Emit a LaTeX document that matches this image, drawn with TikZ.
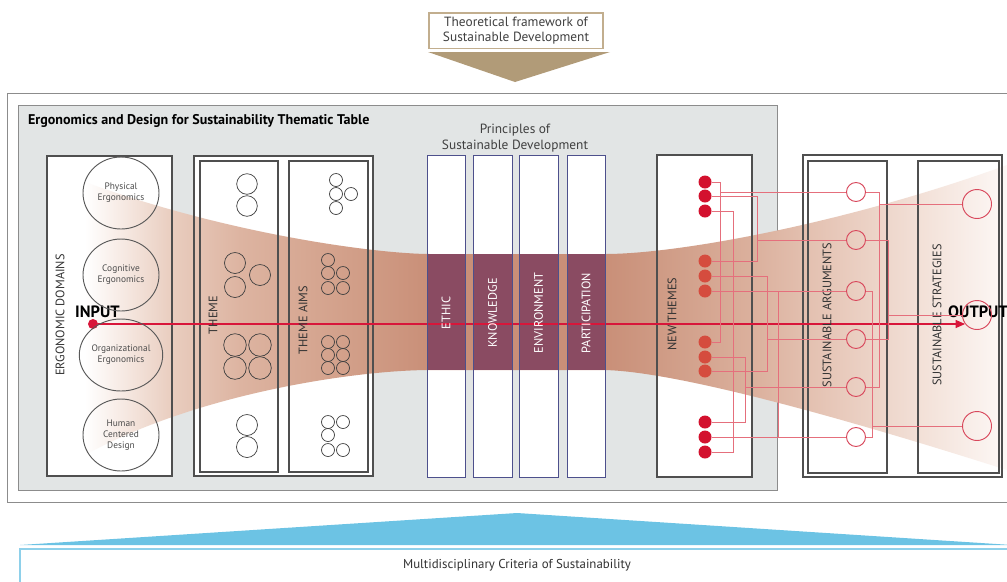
\documentclass[tikz,border=0pt]{standalone}
\usepackage{fontspec}
\setmainfont{PT Sans}
\usetikzlibrary{positioning,shapes.geometric,arrows.meta}

\definecolor{framegray}{HTML}{8C8C8C}
\definecolor{tablegray}{HTML}{E2E5E5}
\definecolor{boxline}{HTML}{4F4F4F}
\definecolor{tanline}{HTML}{C2AE8E}
\definecolor{tanfill}{HTML}{B19B78}
\definecolor{colline}{HTML}{4D508C}
\definecolor{bandpurple}{HTML}{8A4B62}
\definecolor{inred}{HTML}{D8163A}
\definecolor{dotred}{HTML}{D3112E}
\definecolor{dotorange}{HTML}{D54C3E}
\definecolor{wirered}{HTML}{E56F7C}
\definecolor{ringred}{HTML}{D8485C}
\definecolor{skyblue}{HTML}{6CC3E4}
\definecolor{skyline}{HTML}{8ED0EA}
\definecolor{fun0}{HTML}{F7EBE5}
\definecolor{fun1}{HTML}{E9CDBF}
\definecolor{fun2}{HTML}{DDB4A1}
\definecolor{fun3}{HTML}{D3A18B}
\definecolor{fun4}{HTML}{C98F78}
\definecolor{fun5}{HTML}{CF9B85}
\definecolor{fun6}{HTML}{DCB29F}
\definecolor{fun7}{HTML}{E8CABC}
\definecolor{fun8}{HTML}{F4E4DC}
\definecolor{fun9}{HTML}{FDF8F6}

% salmon funnel, light at both ends
\pgfdeclarehorizontalshading{funnel}{100bp}{color(0bp)=(white); color(25bp)=(white);
  color(26.9bp)=(fun0); color(29.7bp)=(fun1); color(33.4bp)=(fun2); color(38.8bp)=(fun3);
  color(43.7bp)=(fun4); color(53.2bp)=(fun4); color(56.2bp)=(fun5); color(61.6bp)=(fun6);
  color(66bp)=(fun7); color(71bp)=(fun8); color(75bp)=(fun9); color(100bp)=(fun9)}

\pgfdeclarelayer{back}
\pgfdeclarelayer{mid}
\pgfsetlayers{back,mid,main}

\tikzset{
  box/.style={draw=boxline, line width=0.9pt},
  col/.style={draw=colline, line width=0.7pt},
  vlabel/.style={rotate=90, font=\fontsize{10.5}{12}\selectfont, text=black!80},
  collabel/.style={rotate=90, font=\fontsize{10.5}{12}\selectfont, text=white},
  ergodomain/.style={ellipse, draw=black!65, line width=0.8pt, minimum width=22.8mm, minimum height=21.6mm,
    inner sep=0pt, align=center, font=\fontsize{8}{9.5}\selectfont, text=black!70},
  themering/.style={draw=black!75, line width=0.6pt},
  newdot/.style={circle, fill=#1, inner sep=0pt, minimum size=3.9mm},
  arg/.style={circle, draw=ringred, line width=0.8pt, inner sep=0pt, minimum size=5.7mm},
  strat/.style={circle, draw=ringred, line width=0.8pt, inner sep=0pt, minimum size=8.7mm},
  wire/.style={wirered, line width=0.6pt},
  io/.style={anchor=south west, inner sep=0pt, font=\fontsize{14}{14}\bfseries\selectfont}
}

\begin{document}
\begin{tikzpicture}[x=0.3mm, y=-0.3mm]
\clip (0,0) rectangle (1007,581);

% frames and white panels
\begin{pgfonlayer}{back}
  \draw[framegray, line width=0.8pt, fill=white] (7,93) rectangle (1015,502);
  \draw[framegray, line width=0.8pt, fill=tablegray] (18,105) rectangle (777,490);
  \foreach \a/\b/\c/\d in {47/156/172/476, 194/156/373/476, 657/155/752/477, 803/155/1002/477,
      427/155/465/477, 473/155/512/477, 519/155/558/477, 567/155/605/477}
    \fill[white] (\a,\b) rectangle (\c,\d);
\end{pgfonlayer}

\begin{pgfonlayer}{mid}
  \shade[shading=funnel] (85,182) .. controls (230,235) and (380,254) .. (430,254) -- (605,254)
    .. controls (680,254) and (850,222) .. (1007,165) -- (1007,470)
    .. controls (850,420) and (680,372) .. (605,370) -- (430,370)
    .. controls (360,370) and (200,392) .. (85,455) -- cycle;
  \foreach \l/\r in {427/465, 473/512, 519/558, 567/605}
    \fill[bandpurple] (\l,254) rectangle (\r,370);
\end{pgfonlayer}

% top: theoretical framework
\node[draw=tanline, line width=1pt, fill=white, minimum width=52.2mm, minimum height=10.5mm, align=center,
  font=\fontsize{11.4}{13}\selectfont, text=black!75] (theory) at (516,30.5) {Theoretical framework of\\Sustainable Development};
\fill[tanfill] (428,52) -- (610,52) -- (515,82) -- cycle;

\node[anchor=west, font=\fontsize{12}{14}\bfseries\selectfont] (tabletitle) at (24,121)
  {Ergonomics and Design for Sustainability Thematic Table};

\draw[box] (47,156) rectangle (172,476);
\draw[box] (194,156) rectangle (373,476);
\draw[box] (200,161) rectangle (278,472);
\draw[box] (289,161) rectangle (368,472);
\draw[box] (657,155) rectangle (752,477);
\draw[box] (803,155) rectangle (1002,477);
\draw[box] (808,161) rectangle (887,473);
\draw[box] (918,161) rectangle (999,473);

% input to output
\node[circle, fill=inred, inner sep=0pt, minimum size=3mm] (in) at (93,324) {};
\coordinate (out) at (965,324);
\draw[inred, line width=0.9pt, -{Triangle[length=2.8mm, width=2.4mm]}] (in) -- (out);
\node[io] (inlabel) at (75,318) {INPUT};
\node[io] (outlabel) at (948,318) {OUTPUT};

% ergonomic domains
\foreach \y/\t [count=\i] in {193/{Physical\\Ergonomics}, 275/{Cognitive\\Ergonomics},
    355/{Organizational\\Ergonomics}, 435/{Human\\Centered\\Design}}
  \node[ergodomain] (dom\i) at (121,\y) {\t};

\node[vlabel] (domains) at (60,315) {ERGONOMIC DOMAINS};
\node[vlabel] (theme) at (213,315) {THEME};
\node[vlabel] (aims) at (303,320) {THEME AIMS};
\node[vlabel] (newthemes) at (672,314) {NEW THEMES};
\node[vlabel] (arguments) at (827,315) {SUSTAINABLE ARGUMENTS};
\node[vlabel] (strategies) at (937,315) {SUSTAINABLE STRATEGIES};

% themes and aims
\foreach \x/\y/\r in {247/184/10.3, 247/206/10.3, 235/263/10.5, 260/275/10.5, 235/287/10.5,
    235/345/11.3, 260/345/11.3, 235/368/11.3, 260/368/11.3, 247/425/10.5, 247/447/10.5}
  \draw[themering] (\x,\y) circle [radius=\r];
\foreach \x/\y in {336/180, 336/194, 351/194, 336/208, 328/260, 328/273, 343/273, 328/288, 343/288,
    328/342, 343/342, 328/355, 343/355, 328/368, 343/368, 328/422, 343/422, 328/435, 328/450, 343/450}
  \draw[themering] (\x,\y) circle [radius=6.5];

% principles
\node[align=center, font=\fontsize{11.4}{13}\selectfont, text=black!75] (principles) at (515,138)
  {Principles of\\Sustainable Development};
\foreach \l/\r/\name [count=\i] in {427/465/ETHIC, 473/512/KNOWLEDGE, 519/558/ENVIRONMENT, 567/605/PARTICIPATION} {
  \draw[col] (\l,155) rectangle (\r,477);
  \node[collabel] (prin\i) at ({(\l+\r)/2},313) {\name};
}

% new themes, arguments, strategies
\foreach \y/\i in {182/1, 196/2, 211/3, 422/10, 437/11, 452/12}
  \node[newdot=dotred] (d\i) at (705,\y) {};
\foreach \y/\i in {261/4, 276/5, 291/6, 342/7, 357/8, 371/9}
  \node[newdot=dotorange] (d\i) at (705,\y) {};
\foreach \y [count=\i] in {192,240,291,339,387,437}
  \node[arg] (a\i) at (856,\y) {};
\foreach \y [count=\i] in {204,315,426}
  \node[strat] (s\i) at (977,\y) {};

\coordinate (v1) at (720,0);
\coordinate (v2) at (733,0);
\coordinate (v3) at (757,0);
\coordinate (v4) at (767,0);
\coordinate (v5) at (745,0);
\coordinate (v6) at (778,0);
\coordinate (w1) at (879,0);
\coordinate (w2) at (888,0);
\coordinate (w3) at (872,0);

\draw[wire] (d1.east) -- (d1 -| v1) -- (d7 -| v1) -- (d7.east);
\draw[wire] (a1 -| v1) -- (a1.west);
\draw[wire] (d3.east) -- (d3 -| v2) -- (d12 -| v2) -- (d12.east);
\draw[wire] (d2.east) -- (d2 -| v3) -- (d4 -| v3) -- (d4.east);
\draw[wire] (a2 -| v3) -- (a2.west);
\draw[wire] (d5.east) -- (d5 -| v4) -- (d9 -| v4) -- (d9.east);
\draw[wire] (a4 -| v4) -- (a4.west);
\draw[wire] (d8.east) -- (d8 -| v5) -- (d10 -| v5) -- (d10.east);
\draw[wire] (a5 -| v5) -- (a5.west);
\draw[wire] (d6.east) -- (a3.west);
\draw[wire] (d11.east) -- (a6.west);
\draw[wire] (d6 -| v6) -- (d11 -| v6);

\draw[wire] (a1.east) -- (a1 -| w1) -- (a5 -| w1) -- (a5.east);
\draw[wire] (s1 -| w1) -- (s1.west);
\draw[wire] (a2.east) -- (a2 -| w2) -- (a4 -| w2) -- (a4.east);
\draw[wire] (s2 -| w2) -- (s2.west);
\draw[wire] (a3.east) -- (a3 -| w3) -- (a6 -| w3) -- (a6.east);
\draw[wire] (s3 -| w3) -- (s3.west);

% bottom: criteria
\fill[skyblue] (20,545) -- (517,513) -- (1012,545) -- cycle;
\draw[skyline, line width=1.6pt, fill=white] (20,549) rectangle (1015,600);
\node[font=\fontsize{11}{12}\selectfont, text=black!80] (criteria) at (517,565) {Multidisciplinary Criteria of Sustainability};
\end{tikzpicture}
\end{document}
